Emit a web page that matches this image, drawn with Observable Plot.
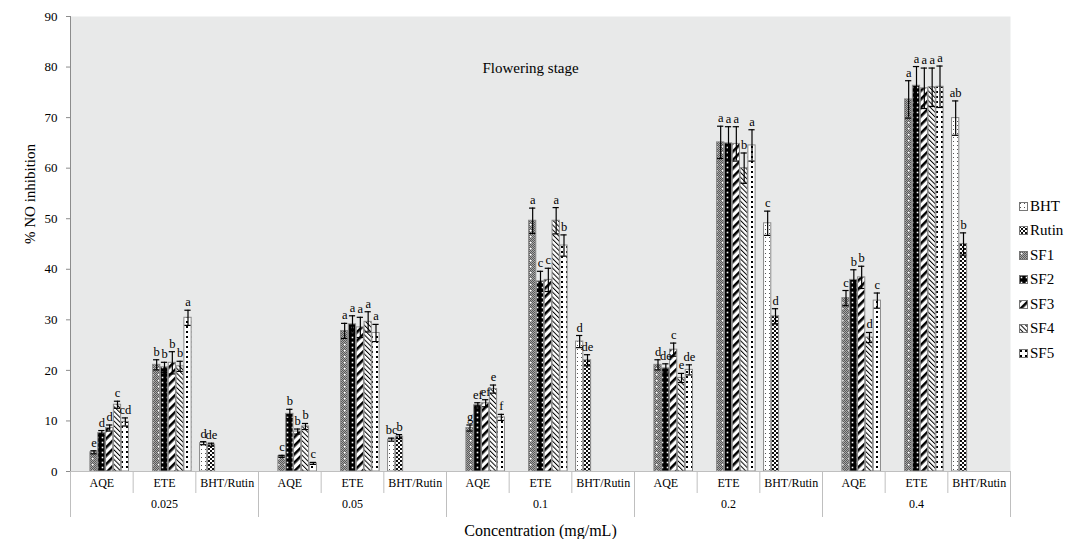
<!DOCTYPE html>
<html>
<head>
<meta charset="utf-8">
<script src="https://cdn.jsdelivr.net/npm/d3@7"></script>
<script src="https://cdn.jsdelivr.net/npm/@observablehq/plot@0.6"></script>
<style>
  body { margin: 0; background: #fff; }
  #wrap { position: relative; width: 1069px; height: 539px; font-family: "Liberation Serif", "DejaVu Serif", serif; }
  #wrap svg text { font-family: "Liberation Serif", "DejaVu Serif", serif; }
  #legend { position: absolute; left: 1019px; top: 194px; }
  .li { display: flex; align-items: center; height: 24.5px; font-size: 15px; color: #000; font-family: "Liberation Serif", "DejaVu Serif", serif; }
  .li svg { margin-right: 2px; }
</style>
</head>
<body>
<svg width="0" height="0" style="position:absolute">
  <defs>
    <pattern id="chk" patternUnits="userSpaceOnUse" width="2" height="2">
      <rect width="2" height="2" fill="#a8a8a8"/>
      <rect x="0" y="0" width="1" height="1" fill="#585858"/>
      <rect x="1" y="1" width="1" height="1" fill="#585858"/>
    </pattern>
    <pattern id="pat-SF1" patternUnits="userSpaceOnUse" width="6" height="6">
      <rect width="6" height="6" fill="url(#chk)"/>
      <rect x="2" y="2" width="1.5" height="1.5" fill="#fff"/>
    </pattern>
    <pattern id="pat-SF2" patternUnits="userSpaceOnUse" width="5" height="5">
      <rect width="5" height="5" fill="#000"/>
      <rect x="1.7" y="1.7" width="1.6" height="1.6" fill="#fff"/>
    </pattern>
    <pattern id="pat-SF3" patternUnits="userSpaceOnUse" width="6" height="6" patternTransform="rotate(45)">
      <rect width="6" height="6" fill="#fff"/>
      <rect x="0" y="0" width="2.6" height="6" fill="#000"/>
    </pattern>
    <pattern id="pat-SF4" patternUnits="userSpaceOnUse" width="3.4" height="3.4" patternTransform="rotate(-45)">
      <rect width="3.4" height="3.4" fill="#fff"/>
      <rect x="0" y="0" width="1" height="3.4" fill="#000"/>
    </pattern>
    <pattern id="pat-SF5" patternUnits="userSpaceOnUse" width="5" height="5">
      <rect width="5" height="5" fill="#fff"/>
      <rect x="1" y="1" width="2" height="2" fill="#000"/>
    </pattern>
    <pattern id="pat-BHT" patternUnits="userSpaceOnUse" width="4" height="4">
      <rect width="4" height="4" fill="#fff"/>
      <rect x="1" y="1" width="1" height="1" fill="#555"/>
    </pattern>
    <pattern id="pat-Rutin" patternUnits="userSpaceOnUse" width="4" height="4">
      <rect width="4" height="4" fill="#fff"/>
      <rect x="0" y="0" width="2" height="2" fill="#111"/>
      <rect x="2" y="2" width="2" height="2" fill="#111"/>
    </pattern>
  </defs>
</svg>
<div id="wrap">
  <div id="legend"></div>
</div>
<script>
// ---- data ----
const concentrations = ["0.025", "0.05", "0.1", "0.2", "0.4"];
const groups = ["AQE", "ETE", "BHT/Rutin"];
const seriesNames = ["BHT", "Rutin", "SF1", "SF2", "SF3", "SF4", "SF5"];
const extractSeries = ["SF1", "SF2", "SF3", "SF4", "SF5"];
const standardSeries = ["BHT", "Rutin"];

// aqueous extracts (AQE), rows = concentrations, cols = SF1..SF5
const aqeValues = [
  [3.8, 7.6, 8.6, 13.2, 9.8],
  [3.0, 11.4, 7.9, 8.9, 1.6],
  [8.6, 13.1, 13.5, 16.3, 10.7],
  [21.1, 20.4, 24.1, 18.5, 20.1],
  [34.3, 37.9, 38.4, 26.5, 33.8]
];
const aqeErrors = [
  [0.3, 0.5, 0.6, 0.7, 0.8],
  [0.2, 0.9, 0.5, 0.6, 0.2],
  [0.6, 0.5, 0.7, 0.8, 0.6],
  [1.0, 0.9, 1.3, 0.9, 1.0],
  [1.5, 2.0, 2.2, 1.0, 1.5]
];
const aqeLetters = [
  ["e", "d", "d", "c", "cd"],
  ["c", "b", "b", "b", "c"],
  ["g", "ef", "ef", "e", "f"],
  ["d", "de", "c", "e", "de"],
  ["c", "b", "b", "d", "c"]
];

// ethanolic extracts (ETE)
const eteValues = [
  [21.1, 20.6, 21.5, 20.8, 30.4],
  [27.8, 29.1, 28.5, 29.6, 27.4],
  [49.6, 37.6, 37.9, 49.6, 44.7],
  [65.1, 64.9, 64.8, 60.0, 64.5],
  [73.6, 76.3, 75.8, 76.0, 76.1]
];
const eteErrors = [
  [1.0, 1.0, 2.2, 1.0, 1.5],
  [1.5, 1.7, 2.0, 2.0, 1.7],
  [2.5, 2.0, 2.3, 2.6, 2.1],
  [3.2, 3.3, 3.4, 3.0, 3.1],
  [3.7, 3.8, 4.0, 3.8, 4.1]
];
const eteLetters = [
  ["b", "b", "b", "b", "a"],
  ["a", "a", "a", "a", "a"],
  ["a", "c", "c", "a", "b"],
  ["a", "a", "a", "b", "a"],
  ["a", "a", "a", "a", "a"]
];

// standards (BHT, Rutin)
const stdValues = [
  [5.6, 5.3],
  [6.3, 6.9],
  [25.7, 22.0],
  [49.1, 30.7],
  [69.9, 45.0]
];
const stdErrors = [
  [0.3, 0.3],
  [0.3, 0.4],
  [1.2, 1.1],
  [2.4, 1.5],
  [3.4, 2.2]
];
const stdLetters = [
  ["d", "de"],
  ["bc", "b"],
  ["d", "de"],
  ["c", "d"],
  ["ab", "b"]
];

const yTicks = [0, 10, 20, 30, 40, 50, 60, 70, 80, 90];
const titleText = "Flowering stage";
const yTitle = "% NO inhibition";
const xTitle = "Concentration (mg/mL)";

// ---- build table ----
const keyOf = (c, g, s) => `${c}|${g}|${s}`;
const rows = [];
concentrations.forEach((c, ci) => {
  extractSeries.forEach((s, si) => {
    rows.push({key: keyOf(c, "AQE", s), series: s, value: aqeValues[ci][si], err: aqeErrors[ci][si], letter: aqeLetters[ci][si]});
    rows.push({key: keyOf(c, "ETE", s), series: s, value: eteValues[ci][si], err: eteErrors[ci][si], letter: eteLetters[ci][si]});
  });
  standardSeries.forEach((s, si) => {
    rows.push({key: keyOf(c, "BHT/Rutin", s), series: s, value: stdValues[ci][si], err: stdErrors[ci][si], letter: stdLetters[ci][si]});
  });
});

// x domain: a gap band at each slot boundary, then the 7 series bands
const xDomain = [];
const gapKeys = [];
const concBoundaryKeys = [];
const slotCenterKeys = [];
const concCenterKeys = [];
let gi = 0;
concentrations.forEach((c) => {
  groups.forEach((g, k) => {
    const gk = `gap-${gi++}`;
    xDomain.push(gk); gapKeys.push(gk);
    if (k === 0) concBoundaryKeys.push(gk);
    seriesNames.forEach(s => xDomain.push(keyOf(c, g, s)));
    slotCenterKeys.push(keyOf(c, g, "SF2"));
    if (g === "ETE") concCenterKeys.push(keyOf(c, g, "SF2"));
  });
});
const lastGap = `gap-${gi}`;
xDomain.push(lastGap); gapKeys.push(lastGap); concBoundaryKeys.push(lastGap);

const W = 1069, H = 539, mL = 70, mR = 59, mT = 16, mB = 68;
const half = (W - mL - mR) / (xDomain.length - 1) / 2;

const font = '"Liberation Serif", "DejaVu Serif", serif';

const chart = Plot.plot({
  width: W, height: H,
  marginTop: mT, marginBottom: mB, marginLeft: mL, marginRight: mR,
  style: {fontFamily: font, fontSize: "13px", background: "transparent", color: "#000"},
  x: {type: "band", domain: xDomain, padding: 0, round: false, insetLeft: -half, insetRight: -half},
  y: {domain: [0, 90]},
  color: {type: "identity"},
  marks: [
    Plot.frame({fill: "#e8e9e9", stroke: null}),
    Plot.text([titleText], {frameAnchor: "top", dy: 46, dx: -10, fontSize: 15}),
    Plot.barY(rows, {x: "key", y: "value", fill: d => `url(#pat-${d.series})`, stroke: "#8a8a8a", strokeWidth: 1, insetLeft: 0.3, insetRight: 0.3}),
    Plot.ruleX(rows, {x: "key", y1: d => d.value - d.err, y2: d => d.value + d.err, stroke: "#000", strokeWidth: 1.2}),
    Plot.tickY(rows, {x: "key", y: d => d.value + d.err, stroke: "#000", strokeWidth: 1.2, insetLeft: 0.8, insetRight: 0.8}),
    Plot.tickY(rows, {x: "key", y: d => d.value - d.err, stroke: "#000", strokeWidth: 1.2, insetLeft: 0.8, insetRight: 0.8}),
    Plot.text(rows, {x: "key", y: d => d.value + d.err, text: "letter", dy: -8, fontSize: 12.5}),
    Plot.ruleY([0], {stroke: "#bfbfbf"}),
    Plot.ruleX([xDomain[0]], {stroke: "#8c8c8c"}),
    Plot.axisY({ticks: yTicks, tickSize: 4, tickPadding: 9, label: null, fontSize: 13, stroke: "#8c8c8c"}),
    Plot.axisX({ticks: gapKeys, tickSize: 22, tickFormat: () => "", label: null, stroke: "#bfbfbf"}),
    Plot.axisX({ticks: concBoundaryKeys, tickSize: 46, tickFormat: () => "", label: null, stroke: "#bfbfbf"}),
    Plot.axisX({ticks: slotCenterKeys, tickSize: 0, tickPadding: 7, tickFormat: k => k.split("|")[1], label: null, fontSize: 12}),
    Plot.axisX({ticks: concCenterKeys, tickSize: 0, tickPadding: 28, tickFormat: k => k.split("|")[0], label: null, fontSize: 12}),
    Plot.text([yTitle], {frameAnchor: "left", rotate: -90, dx: -40, fontSize: 15}),
    Plot.text([xTitle], {frameAnchor: "bottom", lineAnchor: "bottom", dy: 64, fontSize: 16})
  ]
});

const wrap = document.getElementById("wrap");
wrap.insertBefore(chart, wrap.firstChild);

// legend
const legend = document.getElementById("legend");
seriesNames.forEach(s => {
  const item = document.createElement("div");
  item.className = "li";
  item.innerHTML = `<svg width="9" height="9"><rect x="0.5" y="0.5" width="8" height="8" fill="url(#pat-${s})" stroke="#777" stroke-width="1"/></svg><span>${s}</span>`;
  legend.appendChild(item);
});
</script>
</body>
</html>
